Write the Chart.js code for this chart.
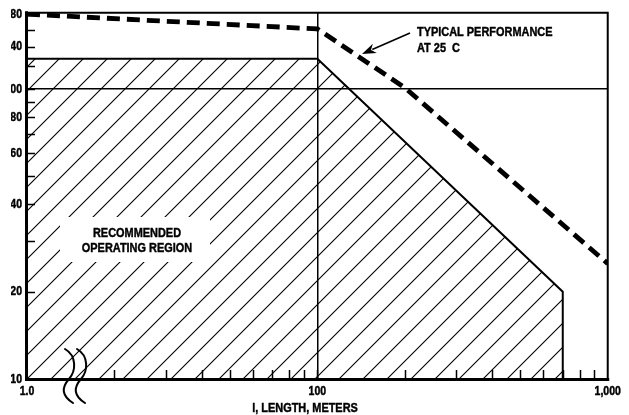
<!DOCTYPE html>
<html><head><meta charset="utf-8">
<script src="https://cdn.jsdelivr.net/npm/chart.js@4.4.0/dist/chart.umd.min.js"></script>
<style>html,body{margin:0;padding:0;background:#fff;}#wrap{width:629px;height:415px;}</style>
</head><body><div id="wrap"><canvas id="c" width="629" height="415"></canvas></div>
<script>
// ---- data ----
const typicalX = [10, 100, 200, 1000];
const typicalY = [181, 161, 101, 25];
const regionX = [10, 100, 700, 700];
const regionY = [127, 127, 20, 10];
const xTickValues = [10,20,30,40,50,60,70,80,90,100,200,300,400,500,600,700,800,900,1000];
const xTickLabels = {10:'1.0', 100:'100', 1000:'1,000'};
const yTickValues = [10,20,30,40,50,60,70,80,90,100,120,140,160,180];
const yTickLabels = {10:'10', 20:'20', 40:'40', 60:'60', 80:'80', 100:'100', 140:'140', 180:'180'};
const axisTitle = 'l, LENGTH, METERS';
const regionLabel = ['RECOMMENDED', 'OPERATING REGION'];
const typicalLabel = ['TYPICAL PERFORMANCE', 'AT 25  C'];

const FONT = "'Liberation Sans', Arial, sans-serif";
const SQUEEZE = 0.81; // narrow (condensed) lettering of the original

// draw all text horizontally condensed (and a touch heavier) about its anchor point
(function(){
  const P = CanvasRenderingContext2D.prototype;
  const orig = P.fillText;
  const origStroke = P.strokeText;
  P.fillText = function(t, x, y, mw){
    this.save();
    this.translate(x, y);
    this.scale(SQUEEZE, 1);
    const m = (mw !== undefined) ? mw / SQUEEZE : undefined;
    if (m !== undefined) orig.call(this, t, 0, 0, m); else orig.call(this, t, 0, 0);
    this.strokeStyle = this.fillStyle;
    this.lineWidth = 0.45;
    this.setLineDash([]);
    if (m !== undefined) origStroke.call(this, t, 0, 0, m); else origStroke.call(this, t, 0, 0);
    this.restore();
  };
})();

const canvas = document.getElementById('c');
const ctx0 = canvas.getContext('2d');

function makeHatch(){
  const s = 24;
  const c = document.createElement('canvas'); c.width = s; c.height = s;
  const g = c.getContext('2d');
  g.strokeStyle = '#000'; g.lineWidth = 1.1;
  g.beginPath();
  g.moveTo(0, s); g.lineTo(s, 0);
  g.moveTo(-2, 2); g.lineTo(2, -2);
  g.moveTo(s - 2, s + 2); g.lineTo(s + 2, s - 2);
  g.stroke();
  const p = ctx0.createPattern(c, 'repeat');
  try { p.setTransform(new DOMMatrix([1,0,0,1,22,0])); } catch(e) {}
  return p;
}

const overlay = {
  id: 'overlay',
  beforeDraw(chart){
    const c = chart.ctx;
    c.save(); c.fillStyle = '#fff'; c.fillRect(0,0,chart.width,chart.height); c.restore();
  },
  afterDraw(chart){
    const c = chart.ctx;
    const a = chart.chartArea;
    const xs = chart.scales.x, ys = chart.scales.y;
    c.save();
    // white box behind region label
    c.fillStyle = '#fff';
    c.fillRect(60, 217, 150, 45);
    // inward tick marks
    c.strokeStyle = '#000'; c.lineWidth = 1.5;
    c.beginPath();
    xTickValues.forEach(v => {
      if (v === xs.min || v === xs.max) return;
      const px = Math.round(xs.getPixelForValue(v)) + 0.5;
      c.moveTo(px, a.bottom); c.lineTo(px, a.bottom - 9);
    });
    yTickValues.forEach(v => {
      if (v === ys.min || v >= ys.max) return;
      const py = Math.round(ys.getPixelForValue(v)) + 0.5;
      c.moveTo(a.left, py); c.lineTo(a.left + 8, py);
    });
    c.stroke();
    // frame
    c.lineCap = 'square';
    c.lineWidth = 3;
    c.beginPath(); c.moveTo(a.left - 0.5, a.top); c.lineTo(a.left - 0.5, a.bottom + 0.5); c.lineTo(a.right, a.bottom + 0.5); c.stroke();
    c.lineWidth = 2;
    c.beginPath(); c.moveTo(a.left, a.top); c.lineTo(a.right, a.top); c.lineTo(a.right, a.bottom); c.stroke();
    // axis break symbol
    c.lineWidth = 2; c.lineCap = 'round';
    [0, 12].forEach(dx => {
      c.beginPath();
      c.moveTo(65 + dx, 349);
      c.bezierCurveTo(77 + dx, 356, 76 + dx, 371, 69 + dx, 379);
      c.bezierCurveTo(61 + dx, 388, 62 + dx, 396, 73 + dx, 403);
      c.stroke();
    });
    // texts
    c.fillStyle = '#000';
    c.font = 'bold 13.5px ' + FONT;
    c.textBaseline = 'middle';
    c.textAlign = 'center';
    c.fillText(regionLabel[0], 137, 233);
    c.fillText(regionLabel[1], 137, 248);
    c.fillText(axisTitle, 305, 408);
    c.textAlign = 'left';
    c.fillText(typicalLabel[0], 417, 32);
    c.fillText(typicalLabel[1], 417, 48);
    // arrow
    const sx = 410, sy = 33, tx = 362, ty = 54;
    const dxv = tx - sx, dyv = ty - sy, L = Math.hypot(dxv, dyv);
    const ux = dxv / L, uy = dyv / L;
    const hl = 14, hw = 5;
    c.lineWidth = 1.6; c.lineCap = 'butt';
    c.beginPath(); c.moveTo(sx, sy); c.lineTo(tx - ux * hl * 0.8, ty - uy * hl * 0.8); c.stroke();
    c.beginPath();
    c.moveTo(tx, ty);
    c.lineTo(tx - ux * hl - uy * hw, ty - uy * hl + ux * hw);
    c.lineTo(tx - ux * hl * 0.7, ty - uy * hl * 0.7);
    c.lineTo(tx - ux * hl + uy * hw, ty - uy * hl - ux * hw);
    c.closePath(); c.fill();
    // left crop of the picture
    c.fillStyle = '#fff';
    c.fillRect(0, 0, 11, a.bottom + 6);
    c.restore();
  }
};

const chart = new Chart(canvas, {
  type: 'line',
  data: {
    datasets: [
      {
        label: 'Recommended operating region',
        data: regionX.map((x, i) => ({x, y: regionY[i]})),
        borderColor: '#000', borderWidth: 2,
        backgroundColor: makeHatch(),
        fill: 'start', pointRadius: 0, tension: 0
      },
      {
        label: 'Typical performance at 25 C',
        data: typicalX.map((x, i) => ({x, y: typicalY[i]})),
        borderColor: '#000', borderWidth: 4.8, borderDash: [13, 7],
        fill: false, pointRadius: 0, tension: 0, borderCapStyle: 'butt'
      }
    ]
  },
  options: {
    responsive: false, animation: false, devicePixelRatio: 1,
    layout: { padding: { top: 12, right: 14, left: 0, bottom: 0 } },
    plugins: { legend: { display: false }, tooltip: { enabled: false } },
    scales: {
      x: {
        type: 'logarithmic', min: 10, max: 1000,
        afterBuildTicks: s => { s.ticks = xTickValues.map(v => ({ value: v })); },
        afterFit: s => { s.height = 36; },
        grid: { drawTicks: false, lineWidth: 1.5, color: c => (c.tick && c.tick.value === 100) ? '#000' : 'rgba(0,0,0,0)' },
        border: { display: false },
        ticks: { autoSkip: false, maxRotation: 0, padding: 5, color: '#000',
          font: { family: FONT, size: 13, weight: 'bold' },
          callback: v => xTickLabels[v] || '' }
      },
      y: {
        type: 'logarithmic', min: 10, max: 183,
        afterBuildTicks: s => { s.ticks = yTickValues.map(v => ({ value: v })); },
        afterFit: s => { s.width = 27; },
        grid: { drawTicks: false, lineWidth: 1.5, color: c => (c.tick && c.tick.value === 100) ? '#000' : 'rgba(0,0,0,0)' },
        border: { display: false },
        ticks: { autoSkip: false, padding: 5, color: '#000',
          font: { family: FONT, size: 13, weight: 'bold' },
          callback: v => yTickLabels[v] || '' }
      }
    }
  },
  plugins: [overlay]
});
</script></body></html>
